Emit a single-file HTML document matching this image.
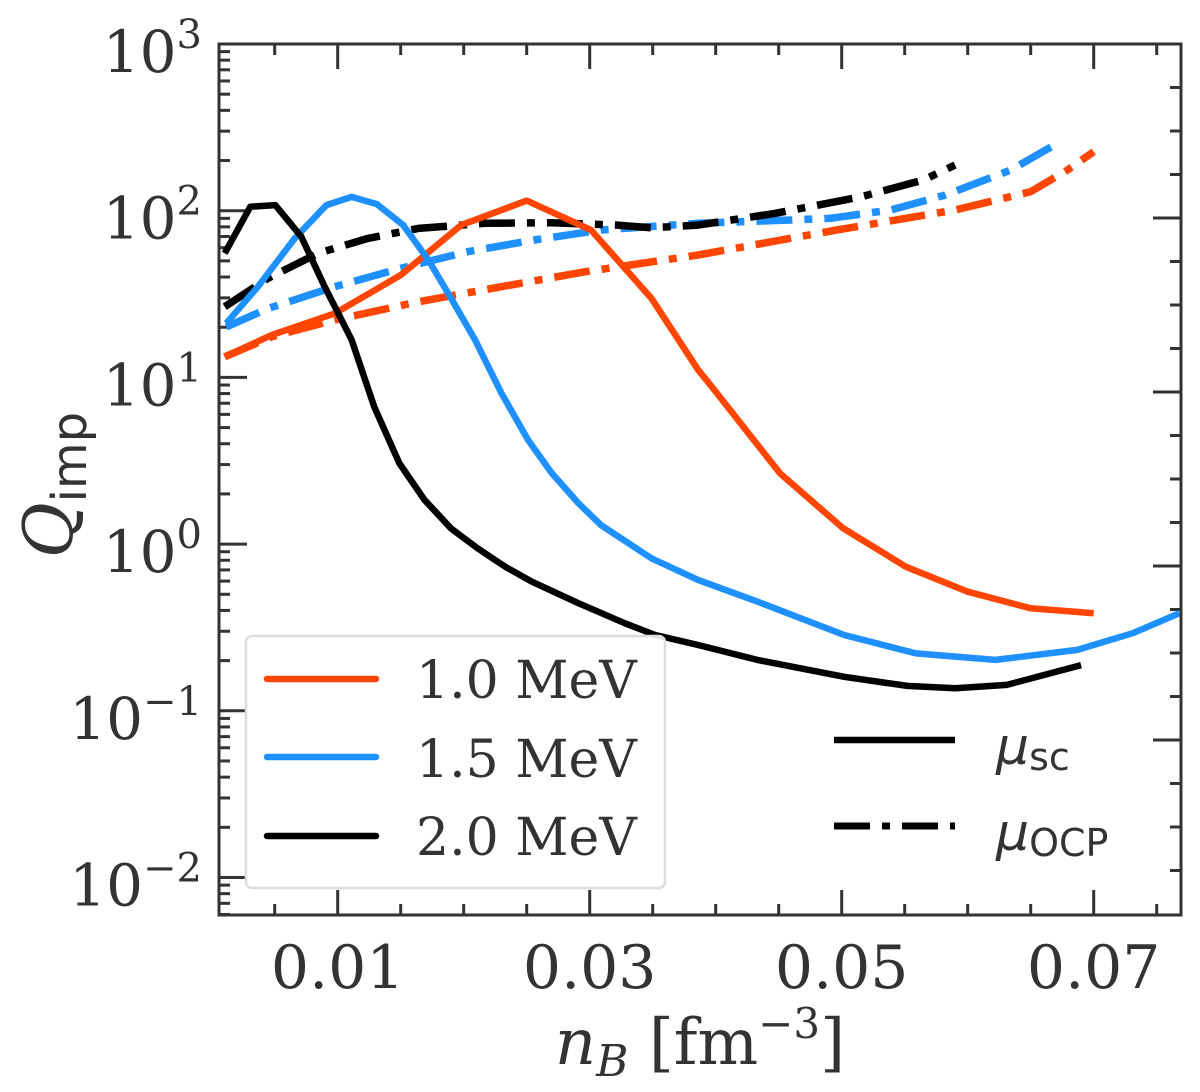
<!DOCTYPE html>
<html><head><meta charset="utf-8"><style>
html,body{margin:0;padding:0;background:#fff;}
svg{display:block;}
</style></head><body>
<svg id="chart" width="1200" height="1092" viewBox="0 0 1200 1092" xmlns="http://www.w3.org/2000/svg">
<g id="ticks"></g>
<g id="series"></g>
<rect x="219" y="44" width="962" height="871" fill="none" stroke="#333" stroke-width="3"/>
<g id="labels" font-family="'DejaVu Serif','Liberation Serif',serif" fill="#333"></g>
<text transform="translate(72,485) rotate(-90)" text-anchor="middle" fill="#333"><tspan font-family="'DejaVu Serif','Liberation Serif',serif" font-style="italic" font-size="68">Q</tspan><tspan font-family="'DejaVu Sans','Liberation Sans',sans-serif" font-size="48" dy="14">imp</tspan></text>
<text x="700" y="1064" text-anchor="middle" fill="#333" font-family="'DejaVu Serif','Liberation Serif',serif" font-size="64"><tspan font-style="italic">n</tspan><tspan font-style="italic" font-size="44" dy="12">B</tspan><tspan dy="-12"> [fm</tspan><tspan font-size="42" dy="-26">−3</tspan><tspan dy="26">]</tspan></text>
<g>
<rect x="246" y="636" width="419" height="252" rx="6" fill="#fff" fill-opacity="0.9" stroke="#ddd" stroke-width="2.5"/>
<line x1="267" y1="679" x2="376" y2="679" stroke="#FF4500" stroke-width="6.5" stroke-linecap="round"/>
<line x1="267" y1="757" x2="376" y2="757" stroke="#1E90FF" stroke-width="6.5" stroke-linecap="round"/>
<line x1="267" y1="836" x2="376" y2="836" stroke="#000" stroke-width="6.5" stroke-linecap="round"/>
<g font-family="'DejaVu Serif','Liberation Serif',serif" font-size="52" fill="#333">
<text x="416" y="698">1.0 MeV</text>
<text x="416" y="777">1.5 MeV</text>
<text x="416" y="855">2.0 MeV</text>
</g>
</g>
<g>
<line x1="834" y1="740" x2="955" y2="740" stroke="#000" stroke-width="6.5"/>
<line x1="834" y1="826" x2="955" y2="826" stroke="#000" stroke-width="7" stroke-dasharray="36,12,8,12"/>
<text x="996" y="764" fill="#333" font-family="'DejaVu Sans','Liberation Sans',sans-serif"><tspan font-style="italic" font-size="52">μ</tspan><tspan font-size="38" dy="6">sc</tspan></text>
<text x="996" y="850" fill="#333" font-family="'DejaVu Sans','Liberation Sans',sans-serif"><tspan font-style="italic" font-size="52">μ</tspan><tspan font-size="38" dy="6">OCP</tspan></text>
</g>
</svg>
<script>
const nB_sc20 = [0.00103,0.00306,0.00505,0.00711,0.00897,0.0111,0.0129,0.0149,0.0169,0.0190,0.0211,0.0233,0.0254,0.0291,0.0328,0.0352,0.0386,0.0433,0.0502,0.0552,0.0590,0.0631,0.0690];
const Q_sc20 = [55.5,105.7,108,69.8,35,16.8,6.67,3.05,1.84,1.24,0.944,0.731,0.596,0.442,0.335,0.285,0.248,0.202,0.160,0.141,0.1365,0.143,0.188];
const nB_sc15 = [0.00116,0.00367,0.00659,0.0091,0.0111,0.0131,0.0152,0.0172,0.0190,0.0209,0.0230,0.0251,0.0270,0.0291,0.0309,0.0349,0.0386,0.0433,0.0502,0.0559,0.0622,0.0687,0.0731,0.0768];
const Q_sc15 = [21.1,35,68.2,108,121,109.6,82,50.6,29.8,16.8,8.03,4.22,2.66,1.76,1.30,0.822,0.61,0.452,0.285,0.221,0.202,0.232,0.292,0.385];
const nB_sc10 = [0.00103,0.00473,0.00976,0.0150,0.0198,0.0250,0.0301,0.0349,0.0386,0.0399,0.0451,0.0501,0.0551,0.0600,0.0650,0.0700];
const Q_sc10 = [13.3,17.9,24.2,41.1,82,115,76.6,29.8,11.1,8.4,2.66,1.245,0.731,0.518,0.412,0.385];
const nB_ocp20 = [0.00103,0.00447,0.00844,0.0124,0.0164,0.0217,0.0270,0.0322,0.0349,0.0386,0.0447,0.0515,0.0565,0.0590];
const Q_ocp20 = [26.5,39.3,55.5,68.2,78.3,84,84.7,82,79,82,96.4,121,153,188];
const nB_ocp15 = [0.00116,0.00447,0.00976,0.0150,0.0203,0.0256,0.0309,0.0386,0.0460,0.0491,0.0539,0.0582,0.0634,0.0669];
const Q_ocp15 = [20.1,25.9,35,45.1,56.8,66.7,76.6,84,88,90,101,124,175,248];
const nB_ocp10 = [0.00103,0.00473,0.00976,0.0164,0.0230,0.0296,0.0386,0.0496,0.0590,0.0650,0.0679,0.0700];
const Q_ocp10 = [13.3,17.5,22.1,28.4,35,43,54.2,76.6,101,130,175,226];
const xTickVals = [0.01,0.03,0.05,0.07];
const xTickLabels = ["0.01","0.03","0.05","0.07"];
const yTickExps = [3,2,1,0,-1,-2];

const NS = "http://www.w3.org/2000/svg";
const X0 = 337.7, XS = 12600, Y0 = 44, DEC = 166.7;
function xs(v){ return X0 + (v - 0.01) * XS; }
function ys(q){ return Y0 + (3 - Math.log10(q)) * DEC; }
const L = 219, R = 1181, T = 44, B = 915;

const tg = document.getElementById('ticks');
function tick(x1,y1,x2,y2,name){
  const l = document.createElementNS(NS,'line');
  l.setAttribute('x1',x1); l.setAttribute('y1',y1); l.setAttribute('x2',x2); l.setAttribute('y2',y2);
  l.setAttribute('stroke','#333'); l.setAttribute('stroke-width','3');
  
  
  tg.appendChild(l);
}
for (let k = 1; k <= 15; k++) {
  const v = k * 0.005;
  const x = xs(v);
  if (x < L || x > R) continue;
  const major = xTickVals.some(t => Math.abs(t - v) < 1e-9);
  const len = major ? 25 : 11;
  tick(x, B, x, B - len, major ? 'x-major-tick' : 'x-minor-tick');
  tick(x, T, x, T + len, major ? 'x-top-major-tick' : 'x-top-minor-tick');
}
for (let e = -3; e <= 3; e++) {
  for (let m = 1; m <= 9; m++) {
    const q = m * Math.pow(10, e);
    const y = ys(q);
    if (y < T - 0.5 || y > B + 0.5) continue;
    tick(L, y, L + (m === 1 ? 28 : 11), y, m === 1 ? 'y-major-tick' : 'y-minor-tick');
  }
}
for (let k = 1; k <= 19; k++) {
  const y = 44 + 43.5 * k;
  const major = k % 4 === 0;
  tick(R, y, R - (major ? 28 : 11), y, major ? 'right-major-tick' : 'right-minor-tick');
}

const lg = document.getElementById('labels');
xTickVals.forEach((v, i) => {
  const t = document.createElementNS(NS,'text');
  t.setAttribute('x', xs(v)); t.setAttribute('y', 988);
  t.setAttribute('text-anchor','middle'); t.setAttribute('font-size','60');
  t.textContent = xTickLabels[i];
  
  
  lg.appendChild(t);
});
yTickExps.forEach(e => {
  const t = document.createElementNS(NS,'text');
  t.setAttribute('x', 202); t.setAttribute('y', ys(Math.pow(10, e)) + 28);
  t.setAttribute('text-anchor','end'); t.setAttribute('font-size','58');
  const a = document.createElementNS(NS,'tspan'); a.textContent = '10';
  const b = document.createElementNS(NS,'tspan'); b.setAttribute('font-size','40'); b.setAttribute('dy','-24');
  b.textContent = e < 0 ? '−' + (-e) : String(e);
  t.appendChild(a); t.appendChild(b);
  
  
  lg.appendChild(t);
});

const sg = document.getElementById('series');
function series(xsArr, qArr, color, dashed, name){
  const p = document.createElementNS(NS,'polyline');
  p.setAttribute('points', xsArr.map((v,i) => xs(v).toFixed(1) + ',' + ys(qArr[i]).toFixed(1)).join(' '));
  p.setAttribute('fill','none'); p.setAttribute('stroke', color);
  p.setAttribute('stroke-width', dashed ? '7.5' : '6.5');
  p.setAttribute('stroke-linejoin','round');
  if (dashed) p.setAttribute('stroke-dasharray','36,12,8,12');
  
  
  sg.appendChild(p);
}
series(nB_ocp10, Q_ocp10, '#FF4500', true, 'ocp-1.0-mev-line');
series(nB_ocp15, Q_ocp15, '#1E90FF', true, 'ocp-1.5-mev-line');
series(nB_ocp20, Q_ocp20, '#000', true, 'ocp-2.0-mev-line');
series(nB_sc10, Q_sc10, '#FF4500', false, 'sc-1.0-mev-line');
series(nB_sc15, Q_sc15, '#1E90FF', false, 'sc-1.5-mev-line');
series(nB_sc20, Q_sc20, '#000', false, 'sc-2.0-mev-line');
</script>
</body></html>
